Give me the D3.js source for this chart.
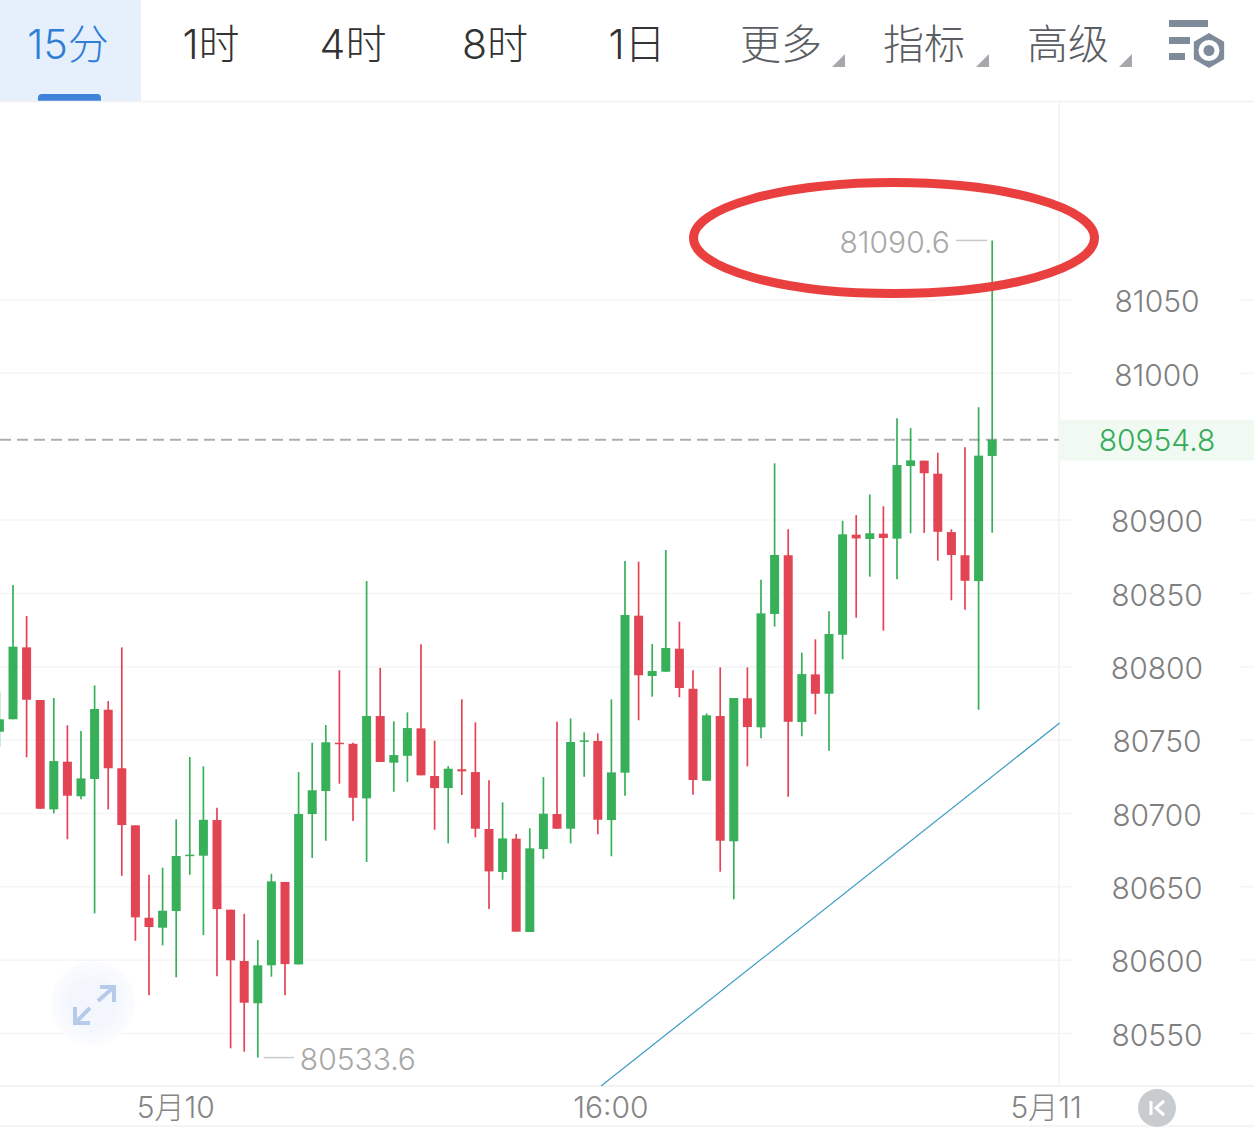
<!DOCTYPE html>
<html><head><meta charset="utf-8">
<script src="https://cdn.jsdelivr.net/npm/d3@7"></script>
<style>html,body{margin:0;padding:0;background:#fff;overflow:hidden}svg{display:block}</style>
</head><body><div id="chart"></div>
<script>
const tabLabels = ["15分","1时","4时","8时","1日","更多","指标","高级"];
const priceTicks = [81050,81000,80900,80850,80800,80750,80700,80650,80600,80550];
const gridTicks = [81050,81000,80900,80850,80800,80750,80700,80650,80600,80550];
const timeTickIndex = [13,45,77];
const timeTickLabels = ["5月10","16:00","5月11"];
const lastPrice = 80954.8, highPrice = 81090.6, lowPrice = 80533.6;
const opens = [80755.7,80764.2,80813.2,80777.3,80702.8,80735.3,80711.7,80723.5,80770.7,80730.8,80691.9,80628.9,80622.1,80633.5,80671.0,80671.2,80695.5,80634.4,80599.4,80570.6,80596.5,80653.3,80597.1,80699.6,80715.3,80748.2,80747.5,80710.3,80766.4,80734.6,80739.3,80758.0,80725.5,80717.3,80730.1,80728.2,80689.4,80660.1,80682.8,80619.2,80675.7,80699.6,80689.6,80748.9,80749.4,80695.5,80727.8,80834.8,80793.7,80796.6,80812.3,80785.0,80722.3,80766.4,80681.0,80778.5,80758.7,80836.0,80876.0,80762.3,80794.8,80781.6,80821.8,80890.0,80887.1,80890.7,80887.3,80936.8,80940.5,80931.6,80891.8,80876.0,80858.4,80943.7];
const closes = [80764.2,80813.7,80777.5,80703.2,80735.7,80712.1,80723.9,80771.2,80730.8,80692.1,80629.2,80622.6,80633.7,80671.0,80671.9,80695.7,80634.8,80599.9,80571.0,80596.5,80653.7,80597.3,80699.6,80715.8,80748.5,80747.5,80710.7,80766.4,80735.1,80739.8,80758.2,80726.0,80717.3,80730.5,80728.7,80689.6,80660.5,80683.0,80619.4,80676.2,80699.8,80689.6,80748.7,80749.8,80695.7,80728.0,80835.3,80794.2,80797.1,80812.8,80785.5,80722.8,80766.9,80681.4,80778.7,80758.9,80836.4,80876.2,80762.5,80795.0,80781.6,80822.3,80890.3,80887.5,80891.0,80887.8,80937.5,80940.7,80931.9,80892.0,80876.2,80858.6,80943.9,80954.8];
const highs = [80783.0,80855.7,80834.6,80777.3,80778.7,80760.1,80756.2,80787.3,80776.6,80813.2,80691.9,80658.2,80663.0,80696.0,80738.5,80732.1,80703.9,80634.4,80631.6,80613.7,80658.9,80653.3,80728.2,80748.2,80760.3,80797.6,80748.2,80858.4,80799.3,80762.8,80768.9,80815.3,80749.6,80732.3,80777.8,80762.1,80722.6,80707.6,80686.0,80689.9,80724.8,80762.5,80764.8,80755.3,80754.6,80777.8,80872.1,80871.6,80815.5,80879.6,80830.7,80797.6,80768.2,80799.6,80778.7,80799.6,80859.3,80938.7,80893.7,80809.6,80818.7,80837.8,80899.5,80903.4,80917.5,80909.4,80969.4,80962.7,80940.5,80945.9,80893.7,80949.6,80976.9,81090.6];
const lows = [80745.5,80764.2,80738.3,80703.2,80700.1,80682.4,80709.6,80631.9,80702.8,80657.5,80613.2,80576.0,80610.1,80588.3,80658.2,80617.1,80589.0,80539.9,80537.6,80533.6,80588.7,80576.0,80597.1,80669.6,80681.4,80720.3,80694.8,80666.9,80735.1,80714.8,80721.4,80726.0,80688.9,80679.6,80712.6,80683.7,80634.8,80654.8,80619.4,80619.2,80669.1,80689.6,80679.6,80725.0,80685.8,80670.8,80712.1,80763.5,80779.6,80796.6,80779.2,80712.8,80722.3,80660.3,80641.5,80732.1,80751.2,80827.3,80711.4,80752.6,80767.6,80742.8,80805.1,80833.4,80861.4,80824.6,80859.6,80891.0,80891.2,80872.3,80845.3,80838.9,80770.7,80891.4];
const trendIndex = [44.24,77.96];
const trendPrice = [80514.2,80761.6];

const W=1254,H=1128;
const UP="#38b05a",DOWN="#e24454";
const numFont="Inter, Roboto, sans-serif", cjkFont="Inter, 'Noto Sans CJK SC', sans-serif";
const svg=d3.select("#chart").append("svg").attr("width",W).attr("height",H).attr("viewBox",[0,0,W,H]);
svg.append("rect").attr("width",W).attr("height",H).attr("fill","#fff");

const x=d3.scaleLinear().domain([0,73]).range([-0.6,992.2]);
const y=d3.scaleLinear().domain([80550,81050]).range([1033.5,300]);

// header
svg.append("rect").attr("x",0).attr("y",0).attr("width",141).attr("height",101).attr("fill","#e6f0fc");
svg.append("path").attr("d","M38,101V98a4,4 0 0 1 4,-4H97a4,4 0 0 1 4,4V101Z").attr("fill","#3f82da");
const tabCenters=[68,211,353,495,637,781,924,1068];
svg.append("g").selectAll("text").data(tabLabels).join("text")
  .attr("x",(d,i)=>tabCenters[i]).attr("y",59).attr("text-anchor","middle")
  .attr("font-family",cjkFont).attr("font-size",41).attr("font-weight",300)
  .attr("fill",(d,i)=>i===0?"#2f7ed8":i<5?"#333":"#5a5e63").text(d=>d);
[845,989,1132].forEach(r=>svg.append("path").attr("d",`M${r},54V67H${r-13}Z`).attr("fill","#a6a8ab"));
const ic=svg.append("g").attr("fill","#7f8a9b");
ic.append("rect").attr("x",1169).attr("y",20).attr("width",39).attr("height",7);
ic.append("rect").attr("x",1169).attr("y",37).attr("width",21).attr("height",7);
ic.append("rect").attr("x",1169).attr("y",53).attr("width",16).attr("height",7);
ic.append("path").attr("d",d3.range(6).map(i=>{const a=Math.PI/3*i-Math.PI/2;return (i?"L":"M")+(1209+17.5*Math.cos(a))+","+(50.5+17.5*Math.sin(a));}).join("")+"Z");
ic.append("circle").attr("cx",1209).attr("cy",50.5).attr("r",10.5).attr("fill","#fff");
ic.append("circle").attr("cx",1209).attr("cy",50.5).attr("r",5.5);
svg.append("line").attr("x1",0).attr("x2",W).attr("y1",101.5).attr("y2",101.5).attr("stroke","#f2f2f2").attr("stroke-width",1.5);

// grid and frame
const grid=svg.append("g").attr("stroke","#f5f5f5").attr("stroke-width",1.5);
grid.selectAll("line.a").data(gridTicks).join("line").attr("class","a")
  .attr("x1",0).attr("x2",1072).attr("y1",d=>y(d)).attr("y2",d=>y(d));
grid.selectAll("line.b").data(gridTicks).join("line").attr("class","b")
  .attr("x1",1240).attr("x2",W).attr("y1",d=>y(d)).attr("y2",d=>y(d));
svg.append("line").attr("x1",1059).attr("x2",1059).attr("y1",102).attr("y2",1086).attr("stroke","#f2f2f2").attr("stroke-width",1.5);
svg.append("line").attr("x1",0).attr("x2",W).attr("y1",1086).attr("y2",1086).attr("stroke","#efefef").attr("stroke-width",1.5);
svg.append("line").attr("x1",0).attr("x2",W).attr("y1",1126).attr("y2",1126).attr("stroke","#f2f2f2").attr("stroke-width",1.5);

// trend line
svg.append("path").datum(trendIndex.map((d,i)=>[d,trendPrice[i]]))
  .attr("d",d3.line().x(d=>x(d[0])).y(d=>y(d[1]))).attr("fill","none").attr("stroke","#3c9cc4").attr("stroke-width",1.2);

// current price
svg.append("line").attr("x1",0).attr("x2",1059).attr("y1",y(lastPrice)).attr("y2",y(lastPrice))
  .attr("stroke","#aeaeae").attr("stroke-width",2).attr("stroke-dasharray","11 6");
svg.append("rect").attr("x",1059).attr("y",y(lastPrice)-20).attr("width",195).attr("height",41).attr("fill","#f0f9f2");
svg.append("text").attr("x",1157).attr("y",y(lastPrice)+1).attr("dy",".36em").attr("text-anchor","middle")
  .attr("font-family",numFont).attr("font-size",30).attr("font-weight",300).attr("fill","#35ad58").text(lastPrice.toFixed(1));

// candles
const candles=opens.map((o,i)=>({i,o,c:closes[i],h:highs[i],l:lows[i]}));
const g=svg.append("g");
g.selectAll("line").data(candles).join("line")
  .attr("x1",d=>x(d.i)).attr("x2",d=>x(d.i)).attr("y1",d=>y(d.h)).attr("y2",d=>y(d.l))
  .attr("stroke",d=>d.c>=d.o?UP:DOWN).attr("stroke-width",1.7);
g.selectAll("rect").data(candles).join("rect")
  .attr("x",d=>x(d.i)-4.5).attr("width",9)
  .attr("y",d=>y(Math.max(d.o,d.c)))
  .attr("height",d=>Math.max(1.5,Math.abs(y(d.o)-y(d.c))))
  .attr("fill",d=>d.c>=d.o?UP:DOWN);

// high / low labels
const hiX=x(73), loX=x(19);
svg.append("line").attr("x1",hiX-36).attr("x2",hiX-5).attr("y1",y(highPrice)).attr("y2",y(highPrice)).attr("stroke","#c8c8c8").attr("stroke-width",1.5);
svg.append("text").attr("x",hiX-42.5).attr("y",y(highPrice)+2).attr("dy",".36em").attr("text-anchor","end")
  .attr("font-family",numFont).attr("font-size",30).attr("font-weight",300).attr("fill","#a8a8a8").text(highPrice.toFixed(1));
svg.append("line").attr("x1",loX+6).attr("x2",loX+36).attr("y1",y(lowPrice)).attr("y2",y(lowPrice)).attr("stroke","#c8c8c8").attr("stroke-width",1.5);
svg.append("text").attr("x",loX+42).attr("y",y(lowPrice)+2).attr("dy",".36em").attr("text-anchor","start")
  .attr("font-family",numFont).attr("font-size",30).attr("font-weight",300).attr("fill","#a8a8a8").text(lowPrice.toFixed(1));

// axes
const yAxis=svg.append("g").attr("transform","translate(1157,1)")
  .call(d3.axisRight(y).tickValues(priceTicks).tickSize(0).tickPadding(0).tickFormat(d3.format("d")));
yAxis.select(".domain").remove();
yAxis.selectAll("text").attr("text-anchor","middle").attr("dy",".36em")
  .attr("font-family",numFont).attr("font-size",30).attr("font-weight",300).attr("fill","#7f7f7f");
const xAxis=svg.append("g").attr("transform","translate(-1,1107)")
  .call(d3.axisBottom(x).tickValues(timeTickIndex).tickSize(0).tickPadding(0).tickFormat((d,i)=>timeTickLabels[i]));
xAxis.select(".domain").remove();
xAxis.selectAll("text").attr("y",0).attr("dy",".36em")
  .attr("font-family",cjkFont).attr("font-size",30).attr("font-weight",300).attr("fill","#858585");

// expand button
const defs=svg.append("defs");
const rg=defs.append("radialGradient").attr("id","glow");
rg.append("stop").attr("offset","55%").attr("stop-color","#f3f7fd");
rg.append("stop").attr("offset","100%").attr("stop-color","#fbfcfe");
svg.append("circle").attr("cx",93).attr("cy",1003).attr("r",42).attr("fill","url(#glow)");
svg.append("path").attr("d","M100,987H114V1002M114,987L98,1001M75,1007V1023H90M75,1023L90,1008")
  .attr("fill","none").attr("stroke","#b6cbea").attr("stroke-width",4);

// K button
svg.append("circle").attr("cx",1157).attr("cy",1108).attr("r",19).attr("fill","#c9cccf");
svg.append("path").attr("d","M1151,1101V1115M1164,1101L1156,1108L1164,1115").attr("fill","none").attr("stroke","#fff").attr("stroke-width",3);

// annotation
svg.append("ellipse").attr("cx",894).attr("cy",238).attr("rx",200.5).attr("ry",55.5)
  .attr("fill","none").attr("stroke","#e9403f").attr("stroke-width",9);
</script></body></html>
